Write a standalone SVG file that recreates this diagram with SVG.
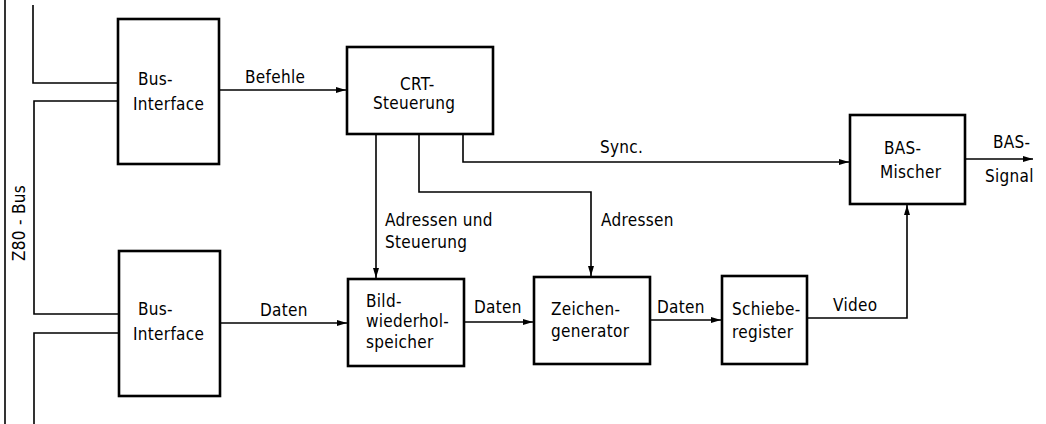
<svg xmlns="http://www.w3.org/2000/svg" width="1046" height="424" viewBox="0 0 1046 424">
<style>
.box{fill:#fff;stroke:#000;stroke-width:2.6}
.ln{fill:none;stroke:#000;stroke-width:1.6}
text{font-family:"DejaVu Sans Condensed","DejaVu Sans",sans-serif;font-size:17px;letter-spacing:0.3px;fill:#000}
</style>
<defs>
<marker id="ah" viewBox="0 0 10 6" refX="10" refY="3" markerWidth="10" markerHeight="6" markerUnits="userSpaceOnUse" orient="auto">
<path d="M0,0 L10,3 L0,6 Z" fill="#000"/>
</marker>
</defs>
<rect width="1046" height="424" fill="#fff"/>
<g id="connectors">
<path class="ln" d="M5,0 V424"/>
<path class="ln" d="M33,5 V83 H118"/>
<path class="ln" d="M118,101 H34 V314 H119"/>
<path class="ln" d="M119,333 H34 V424"/>
<path class="ln" d="M219,90 H346" marker-end="url(#ah)"/>
<path class="ln" d="M220,323 H347" marker-end="url(#ah)"/>
<path class="ln" d="M376,134 V278" marker-end="url(#ah)"/>
<path class="ln" d="M419,134 V192 H591 V276" marker-end="url(#ah)"/>
<path class="ln" d="M463,134 V162 H849" marker-end="url(#ah)"/>
<path class="ln" d="M464,322 H533" marker-end="url(#ah)"/>
<path class="ln" d="M650,320 H721" marker-end="url(#ah)"/>
<path class="ln" d="M807,318 H907 V205" marker-end="url(#ah)"/>
<path class="ln" d="M965,159 H1033" marker-end="url(#ah)"/>
<text x="245" y="83">Befehle</text>
<text x="260" y="316">Daten</text>
<text x="385" y="226">Adressen und</text>
<text x="385" y="248">Steuerung</text>
<text x="601" y="226">Adressen</text>
<text x="600" y="153">Sync.</text>
<text x="474" y="313">Daten</text>
<text x="657" y="313">Daten</text>
<text x="833" y="311">Video</text>
<text x="993" y="148">BAS-</text>
<text x="985" y="182">Signal</text>
<text transform="translate(25,223) rotate(-90)" text-anchor="middle">Z80 - Bus</text>
</g>
<g id="bus-interface-1">
<rect class="box" x="118" y="19" width="101" height="145"/>
<text x="138" y="85">Bus-</text>
<text x="133" y="110">Interface</text>
</g>
<g id="bus-interface-2">
<rect class="box" x="119" y="251" width="101" height="145"/>
<text x="138" y="315">Bus-</text>
<text x="133" y="340">Interface</text>
</g>
<g id="crt">
<rect class="box" x="347" y="47" width="146" height="87"/>
<text x="400" y="90">CRT-</text>
<text x="373" y="109">Steuerung</text>
</g>
<g id="bildwiederholspeicher">
<rect class="box" x="348" y="279" width="116" height="87"/>
<text x="366" y="307">Bild-</text>
<text x="366" y="327">wiederhol-</text>
<text x="366" y="348">speicher</text>
</g>
<g id="zeichengenerator">
<rect class="box" x="534" y="277" width="116" height="87"/>
<text x="551" y="315">Zeichen-</text>
<text x="551" y="337">generator</text>
</g>
<g id="schieberegister">
<rect class="box" x="722" y="276" width="85" height="88"/>
<text x="732" y="315">Schiebe-</text>
<text x="732" y="338">register</text>
</g>
<g id="bas-mischer">
<rect class="box" x="850" y="115" width="115" height="89"/>
<text x="884" y="154">BAS-</text>
<text x="880" y="178">Mischer</text>
</g>
</svg>
